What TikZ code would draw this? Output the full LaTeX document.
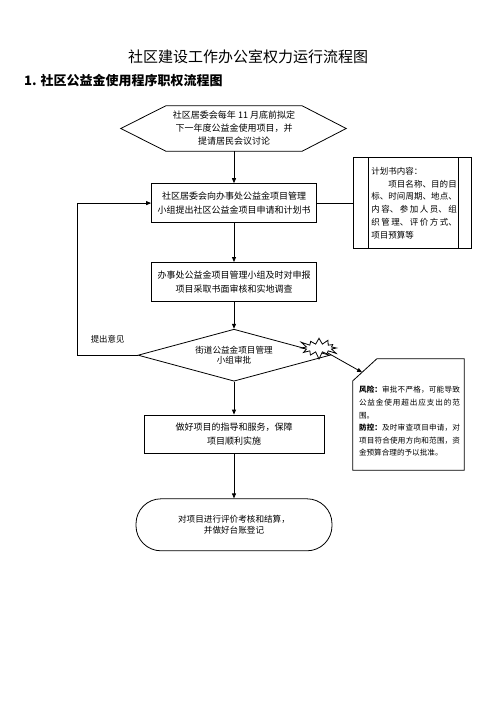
\documentclass[tikz,border=0pt]{standalone}
\usepackage{fontspec}
\setmainfont{Noto Sans CJK SC}
\usetikzlibrary{positioning, arrows.meta, calc, shapes.geometric, shapes.symbols}
\XeTeXlinebreaklocale "zh"
\XeTeXlinebreakskip=0pt plus 2pt
\tikzset{
  flowbox/.style={
    rectangle,
    draw,
    line width=0.8pt,
    minimum width=165pt,
    minimum height=39pt,
    align=center,
    font=\fontsize{9}{13.5}\selectfont,
    inner sep=2pt
  },
  plainbox/.style={
    rectangle,
    minimum width=136pt,
    minimum height=45pt,
    align=center,
    font=\fontsize{9}{13}\selectfont,
    inner sep=0pt
  },
  decisionnode/.style={
    diamond,
    draw,
    line width=0.8pt,
    aspect=3.7,
    minimum width=192pt,
    minimum height=52pt,
    align=center,
    font=\fontsize{8.6}{10.5}\selectfont,
    inner sep=0pt
  },
  endnode/.style={
    rectangle,
    draw,
    line width=0.8pt,
    rounded corners=25pt,
    minimum width=196pt,
    minimum height=52pt,
    align=center,
    font=\fontsize{8.6}{11.5}\selectfont
  },
  planbox/.style={
    rectangle,
    draw,
    line width=0.8pt,
    minimum width=118pt,
    minimum height=91pt,
    text width=89pt,
    align=left,
    font=\fontsize{8.5}{12.8}\selectfont,
    inner sep=0pt
  },
  risktext/.style={
    text width=101pt,
    align=justify,
    font=\fontsize{7.6}{12.6}\selectfont,
    inner sep=0pt
  },
  burst/.style={
    starburst,
    draw,
    fill=white,
    line width=0.8pt,
    starburst points=12,
    starburst point height=8pt,
    minimum width=42pt,
    minimum height=24pt,
    inner sep=0pt
  },
  flowarrow/.style={
    -{Triangle[length=5pt,width=4pt]},
    line width=0.8pt
  },
  flowline/.style={
    line width=0.8pt
  },
  edgelabel/.style={
    font=\fontsize{8.4}{10}\selectfont,
    inner sep=0pt
  }
}

\begin{document}
\begin{tikzpicture}[x=1pt, y=-1pt]
  \useasboundingbox (0,0) rectangle (496,702);

  \node[font=\fontsize{15}{18}\selectfont] (title) at (248,57)
    {社区建设工作办公室权力运行流程图};
  \node[font=\fontsize{13}{16}\selectfont\bfseries, anchor=west, inner sep=0pt] (heading) at (24,81)
    {1. 社区公益金使用程序职权流程图};

  \node[plainbox] (draft) at (234,128.5)
    {社区居委会每年 11 月底前拟定\\下一年度公益金使用项目，并\\提请居民会议讨论};
  \draw[flowline] (draft.north west) -- (draft.north east) -- ($(draft.east)+(44,0)$)
    -- (draft.south east) -- (draft.south west) -- ($(draft.west)+(-45,0)$) -- cycle;

  \node[flowbox, below=32pt of draft] (apply)
    {社区居委会向办事处公益金项目管理\\小组提出社区公益金项目申请和计划书};
  \node[planbox, right=36pt of apply] (plan)
    {\hspace*{3.5pt}\parbox{85.5pt}{%
     计划书内容：\\
     \hspace*{2em}项目名称、目的目\linebreak
     标、时间周期、地点、\linebreak
     内容、参加人员、组\linebreak
     织管理、评价方式、\linebreak
     项目预算等}};
  \draw[flowline] ($(plan.north west)+(15,0)$) -- ($(plan.south west)+(15,0)$);
  \draw[flowline] ($(plan.north east)+(-13,0)$) -- ($(plan.south east)+(-13,0)$);

  \node[flowbox, below=39pt of apply] (review)
    {办事处公益金项目管理小组及时对申报\\项目采取书面审核和实地调查};
  \node[decisionnode, below=27pt of review] (approve)
    {街道公益金项目管理\\小组审批};
  \node[flowbox, minimum width=180pt, minimum height=38pt, below=33pt of approve] (support)
    {做好项目的指导和服务，保障\\项目顺利实施};
  \node[endnode, below=45pt of support] (settle)
    {对项目进行评价考核和结算，\\并做好台账登记};

  \node[burst] (burst) at (319,348) {};

  \node[minimum width=111pt, minimum height=111pt, inner sep=0pt] (risk) at (408.5,414.5) {};
  \draw[flowline] ($(risk.north west)+(24,0)$) -- (risk.north east) -- (risk.south east)
    -- (risk.south west) -- ($(risk.north west)+(0,22)$) -- cycle;
  \coordinate (riskcut) at ($(risk.north west)+(9.3,13.5)$);
  \node[risktext] (riskinfo) at (409.5,421.5)
    {{\bfseries 风险：}审批不严格，可能导致\linebreak
     公益金使用超出应支出的范\linebreak
     围。\\
     {\bfseries 防控：}及时审查项目申请，对\linebreak
     项目符合使用方向和范围，资\linebreak
     金预算合理的予以批准。};

  \draw[flowarrow] (draft.south) -- (apply.north);
  \draw[flowline] (apply.east) -- (plan.west);
  \draw[flowarrow] (apply.south) -- (review.north);
  \draw[flowarrow] (review.south) -- (approve.north);
  \draw[flowarrow] (approve.south) -- (support.north);
  \draw[flowarrow] (support.south) -- (settle.north);
  \draw[flowarrow] (approve.west) -- node[edgelabel, above=12pt] {提出意见} ++(-60,0) |- (apply.west);
  \draw[flowarrow] (burst) -- (riskcut);
\end{tikzpicture}
\end{document}
